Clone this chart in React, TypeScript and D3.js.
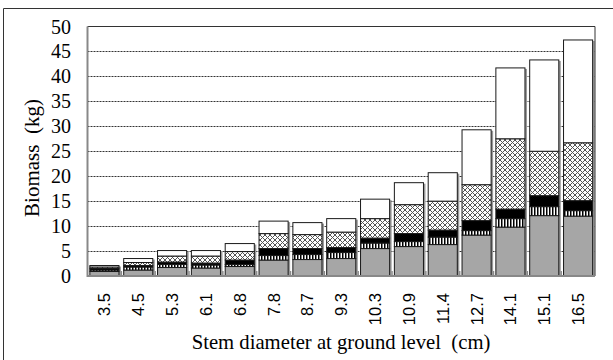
import React, { useRef, useEffect } from "react";
import * as d3 from "d3";

// stem diameter classes (cm)
const diameters = ["3.5", "4.5", "5.3", "6.1", "6.8", "7.8", "8.7", "9.3", "10.3", "10.9", "11.4", "12.7", "14.1", "15.1", "16.5"];
// biomass components (kg), bottom to top
const grayPart = [0.9, 1.2, 1.7, 1.6, 1.9, 3.2, 3.3, 3.5, 5.5, 5.9, 6.3, 8.2, 9.8, 12.1, 12.0];
const stripePart = [0.3, 0.6, 0.6, 0.6, 0.4, 0.9, 1.0, 1.2, 1.1, 1.0, 1.5, 0.9, 1.7, 1.8, 1.1];
const blackPart = [0.3, 0.3, 0.5, 0.4, 0.9, 1.4, 1.2, 1.0, 1.0, 1.6, 1.4, 2.0, 1.9, 2.2, 2.0];
const crossPart = [0.3, 0.6, 1.2, 1.4, 1.7, 3.0, 2.8, 3.1, 3.9, 5.8, 5.8, 7.2, 14.1, 8.9, 11.6];
const whitePart = [0.3, 0.8, 1.1, 1.1, 1.6, 2.5, 2.4, 2.7, 3.9, 4.4, 5.7, 11.0, 14.2, 18.3, 20.6];
const yTicks = [0, 5, 10, 15, 20, 25, 30, 35, 40, 45, 50];

const keys = ["gray", "stripe", "black", "cross", "white"];
const fills = {
  gray: "#a6a6a6",
  stripe: "url(#stripes)",
  black: "#000",
  cross: "url(#cross)",
  white: "#fff",
};

const App = () => {
  const ref = useRef(null);

  useEffect(() => {
    const W = 613,
      H = 360;
    const margin = { top: 26.5, right: 18, bottom: 84, left: 87.5 };

    d3.select(ref.current).selectAll("*").remove();

    const svg = d3
      .select(ref.current)
      .append("svg")
      .attr("width", W)
      .attr("height", H)
      .style("position", "absolute")
      .style("left", 0)
      .style("top", 0);

    const defs = svg.append("defs");
    const st = defs
      .append("pattern")
      .attr("id", "stripes")
      .attr("patternUnits", "userSpaceOnUse")
      .attr("width", 3)
      .attr("height", 3);
    st.append("rect").attr("width", 3).attr("height", 3).attr("fill", "#fff");
    st.append("rect").attr("width", 1.5).attr("height", 3).attr("fill", "#000");

    const cr = defs
      .append("pattern")
      .attr("id", "cross")
      .attr("patternUnits", "userSpaceOnUse")
      .attr("width", 5)
      .attr("height", 5);
    cr.append("rect").attr("width", 5).attr("height", 5).attr("fill", "#fff");
    cr.append("path")
      .attr("d", "M0,0L5,5M5,0L0,5")
      .attr("stroke", "#555")
      .attr("stroke-width", 1);

    // outer frame (left and top only visible)
    svg.append("line").attr("x1", 3.5).attr("x2", 3.5).attr("y1", 8.5).attr("y2", H).attr("stroke", "#333");
    svg.append("line").attr("x1", 3.5).attr("x2", W).attr("y1", 8.5).attr("y2", 8.5).attr("stroke", "#333");

    const x = d3
      .scaleBand()
      .domain(diameters)
      .range([margin.left, W - margin.right])
      .paddingInner(0.14)
      .paddingOuter(0.07);

    const y = d3
      .scaleLinear()
      .domain([0, 50])
      .range([H - margin.bottom, margin.top]);

    const g = svg.append("g");

    // dashed grid
    g.selectAll(".grid")
      .data(yTicks.filter((t) => t > 0 && t < 50))
      .enter()
      .append("line")
      .attr("x1", margin.left)
      .attr("x2", W - margin.right)
      .attr("y1", (d) => Math.round(y(d)) + 0.5)
      .attr("y2", (d) => Math.round(y(d)) + 0.5)
      .attr("stroke", "#333")
      .attr("stroke-dasharray", "2,1");

    // small ticks between bars
    const step = x.step();
    g.selectAll(".xt")
      .data(diameters.slice(1))
      .enter()
      .append("line")
      .attr("x1", (d) => x(d) - (step - x.bandwidth()) / 2)
      .attr("x2", (d) => x(d) - (step - x.bandwidth()) / 2)
      .attr("y1", y(0))
      .attr("y2", y(0) - 5)
      .attr("stroke", "#888")
      .attr("stroke-width", 1.5);

    const rows = diameters.map((d, i) => ({
      d,
      gray: grayPart[i],
      stripe: stripePart[i],
      black: blackPart[i],
      cross: crossPart[i],
      white: whitePart[i],
    }));
    const series = d3.stack().keys(keys)(rows);
    const totals = rows.map((r) => keys.reduce((s, k) => s + r[k], 0));

    // shadow on the right side of each bar
    g.selectAll(".shadow")
      .data(rows)
      .enter()
      .append("rect")
      .attr("x", (d) => x(d.d) + 2)
      .attr("y", (d, i) => y(totals[i]) + 1)
      .attr("width", x.bandwidth())
      .attr("height", (d, i) => y(0) - y(totals[i]) - 1)
      .attr("fill", "#999");

    series.forEach((s) => {
      g.selectAll(".seg-" + s.key)
        .data(s)
        .enter()
        .append("rect")
        .attr("x", (d) => x(d.data.d))
        .attr("y", (d) => y(d[1]))
        .attr("width", x.bandwidth())
        .attr("height", (d) => y(d[0]) - y(d[1]))
        .attr("fill", fills[s.key])
        .attr("stroke", "#1a1a1a")
        .attr("stroke-width", 1);
    });

    // plot frame
    svg.append("line")
      .attr("x1", margin.left).attr("x2", W - margin.right)
      .attr("y1", margin.top).attr("y2", margin.top)
      .attr("stroke", "#333");
    svg.append("line")
      .attr("x1", W - margin.right).attr("x2", W - margin.right)
      .attr("y1", margin.top).attr("y2", y(0))
      .attr("stroke", "#333");
    svg.append("line")
      .attr("x1", margin.left).attr("x2", margin.left)
      .attr("y1", margin.top).attr("y2", y(0) + 1)
      .attr("stroke", "#888").attr("stroke-width", 2);
    svg.append("line")
      .attr("x1", margin.left).attr("x2", W - margin.right)
      .attr("y1", y(0)).attr("y2", y(0))
      .attr("stroke", "#888").attr("stroke-width", 2);

    // y tick labels
    svg.selectAll(".yl")
      .data(yTicks)
      .enter()
      .append("text")
      .attr("x", 71)
      .attr("y", (d) => y(d))
      .attr("dy", "0.35em")
      .attr("text-anchor", "end")
      .attr("font-family", "'Liberation Serif', 'Times New Roman', serif")
      .attr("font-size", 20)
      .attr("fill", "#000")
      .text((d) => d);

    // x tick labels, rotated
    svg.selectAll(".xl")
      .data(diameters)
      .enter()
      .append("text")
      .attr("transform", (d) => `translate(${x(d) + x.bandwidth() / 2},293) rotate(-90)`)
      .attr("dy", "0.36em")
      .attr("text-anchor", "end")
      .attr("font-family", "'Liberation Sans', Arial, sans-serif")
      .attr("font-size", 16.5)
      .attr("fill", "#000")
      .text((d) => d);

    svg.append("text")
      .attr("transform", "translate(39,158) rotate(-90)")
      .attr("text-anchor", "middle")
      .attr("font-family", "'Liberation Serif', 'Times New Roman', serif")
      .attr("font-size", 21)
      .attr("fill", "#000")
      .style("white-space", "pre")
      .text("Biomass  (kg)");

    svg.append("text")
      .attr("x", 341)
      .attr("y", 349)
      .attr("text-anchor", "middle")
      .attr("font-family", "'Liberation Serif', 'Times New Roman', serif")
      .attr("font-size", 20.7)
      .attr("fill", "#000")
      .style("white-space", "pre")
      .text("Stem diameter at ground level  (cm)");
  }, []);

  return <div ref={ref}></div>;
};

export default App;
